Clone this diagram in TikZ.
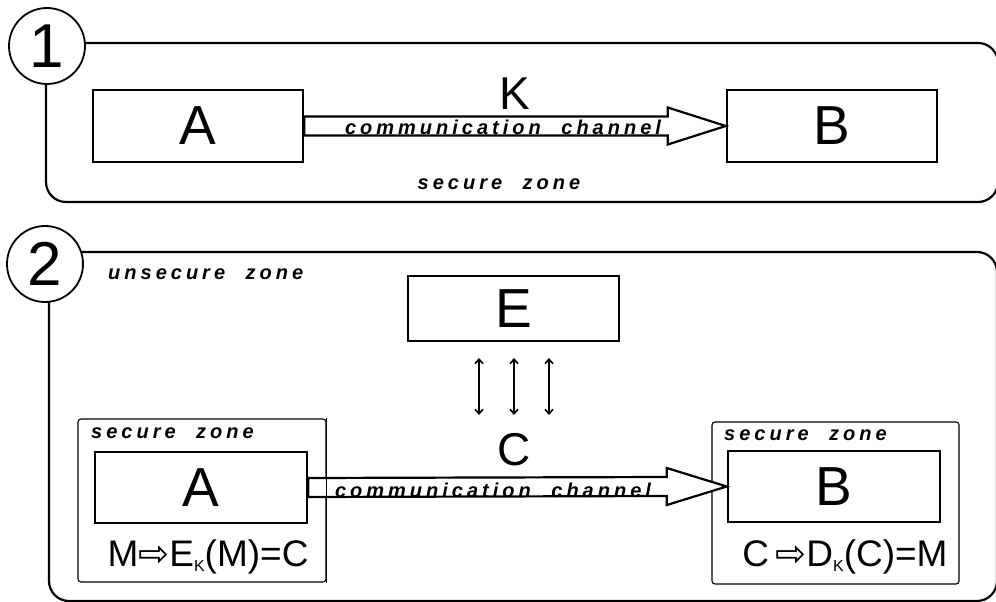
\documentclass[tikz,border=0pt]{standalone}
\usepackage{fontspec}
\setmainfont{Liberation Sans}
\newfontfamily\lblfont[LetterSpace=20]{Liberation Sans}
\newfontfamily\symfont{DejaVu Sans}
\newcommand\wgap{\ \hspace{11pt}}
\usetikzlibrary{arrows.meta,calc}
\begin{document}
\begin{tikzpicture}[x=1pt,y=-1pt,
  panel/.style={draw, line width=2.2pt, rounded corners=20pt},
  num/.style={circle, draw, line width=1.8pt, fill=white, minimum size=76pt, inner sep=0pt, font=\fontsize{62}{62}\selectfont},
  box/.style={draw, line width=2.5pt, minimum width=210pt, minimum height=72pt, inner sep=0pt, font=\fontsize{55}{55}\selectfont},
  zone/.style={draw, line width=1.1pt, rounded corners=3pt, inner sep=0pt},
  lbl/.style={font=\lblfont\bfseries\itshape\fontsize{20}{20}\selectfont, inner sep=0pt},
  big/.style={font=\fontsize{46}{46}\selectfont, inner sep=0pt},
  formula/.style={font=\fontsize{37}{37}\selectfont, inner sep=0pt},
  channel/.style={draw, line width=2.2pt, fill=white, line join=miter},
  dbl/.style={{Straight Barb[length=4.5pt,width=8pt]}-{Straight Barb[length=4.5pt,width=8pt]}, line width=1.6pt}
]
\useasboundingbox (0,0) rectangle (996,602);
\clip (0,0) rectangle (996,602);
\fill[white] (0,0) rectangle (996,602);

% ---------- panel 1 ----------
\draw[panel] (46,43) rectangle (998,202);
\node[num] (n1) at (47,46) {1};
\node[box] (A1) at (198,126) {A};
\node[box] (B1) at (832,126) {B};
\draw[channel] ([yshift=9.5pt]A1.east) -- ([xshift=-58pt,yshift=9.5pt]B1.west)
  -- ([xshift=-58pt,yshift=18.5pt]B1.west) -- (B1.west)
  -- ([xshift=-58pt,yshift=-18.5pt]B1.west) -- ([xshift=-58pt,yshift=-9.5pt]B1.west)
  -- ([yshift=-9.5pt]A1.east) -- cycle;
\node[big] (K) at (515,94) {K};
\node[lbl] (cc1) at (503,127) {communication\wgap channel};
\node[lbl] (sz1) at (499,184) {secure\wgap zone};

% ---------- panel 2 ----------
\draw[panel] (49,252) rectangle (997,601);
\node[num] (n2) at (45,264) {2};
\node[lbl, anchor=west] (usz) at (108,274) {unsecure\wgap zone};
\node[box, minimum width=211pt, minimum height=65pt] (E) at (513.5,308.5) {E};
\coordinate (e1t) at (479,358); \coordinate (e1b) at (479,415);
\coordinate (e2t) at (514,358); \coordinate (e2b) at (514,415);
\coordinate (e3t) at (549,358); \coordinate (e3b) at (549,415);
\draw[dbl] (e1t) -- (e1b);
\draw[dbl] (e2t) -- (e2b);
\draw[dbl] (e3t) -- (e3b);
\node[big] (C) at (514,450) {C};

\node[zone, minimum width=248pt, minimum height=163pt] (Z1) at (202,500.5) {};
\node[zone, minimum width=247pt, minimum height=162pt] (Z2) at (835.5,503) {};
\node[lbl, anchor=west] (sz2) at (91,433) {secure\wgap zone};
\node[lbl, anchor=west] (sz3) at (724,435) {secure\wgap zone};
\node[box, minimum width=212pt, minimum height=71pt] (A2) at (201,487.5) {A};
\node[box, minimum width=212pt, minimum height=71pt] (B2) at (834,486.5) {B};
\draw[channel] ([yshift=9.5pt]A2.east) -- ([xshift=-60pt,yshift=9.5pt]B2.west)
  -- ([xshift=-60pt,yshift=18.5pt]B2.west) -- (B2.west)
  -- ([xshift=-60pt,yshift=-18.5pt]B2.west) -- ([xshift=-60pt,yshift=-9.5pt]B2.west)
  -- ([yshift=-9.5pt]A2.east) -- cycle;
\draw[line width=1.1pt] (Z1.north east) -- (Z1.south east);
\node[lbl] (cc2) at (493,490) {communication\wgap channel};
\node[formula] (f1) at (208,557) {M{\symfont ⇨}E\raisebox{-5pt}{\fontsize{16}{16}\selectfont K}(M)=C};
\node[formula] (f2) at (845,557) {C\,{\symfont ⇨}D\raisebox{-5pt}{\fontsize{16}{16}\selectfont K}(C)=M};
\end{tikzpicture}
\end{document}
